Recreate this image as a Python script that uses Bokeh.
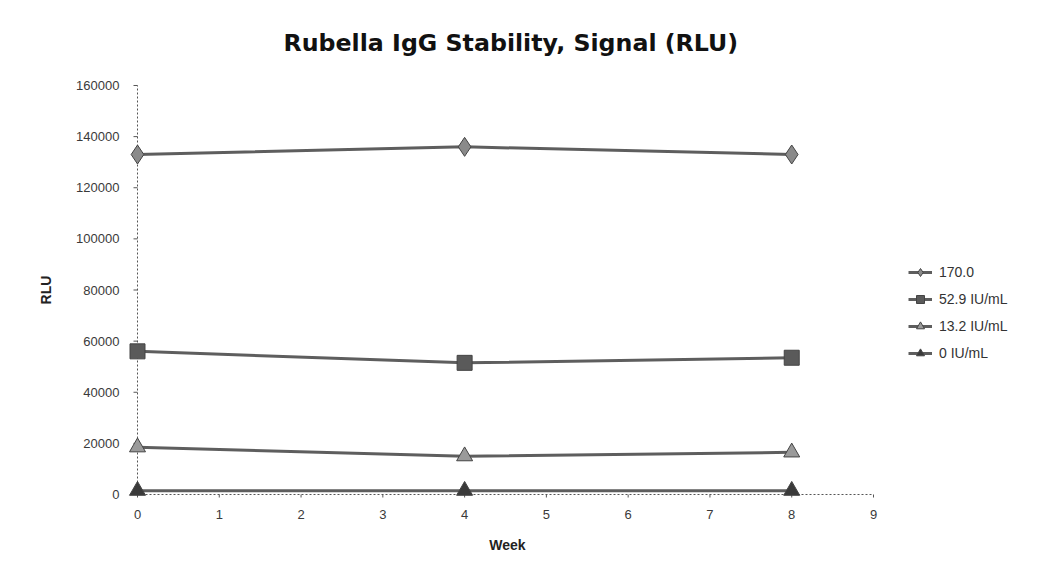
from bokeh.plotting import figure
from bokeh.models import Range1d, FixedTicker, Legend, LegendItem
from bokeh.layouts import row
from bokeh.embed import file_html
from bokeh.resources import INLINE

weeks = [0, 4, 8]
series_names = ["170.0", "52.9 IU/mL", "13.2 IU/mL", "0 IU/mL"]
s170 = [133000, 136000, 133000]
s529 = [56000, 51500, 53500]
s132 = [18500, 15000, 16500]
s0 = [1500, 1500, 1500]
y_ticks = [0, 20000, 40000, 60000, 80000, 100000, 120000, 140000, 160000]
x_ticks = [0, 1, 2, 3, 4, 5, 6, 7, 8, 9]
title_text = "Rubella IgG Stability, Signal (RLU)"

# geometry (pixels): x=0 at 137, x=9 at 873; y=0 at 494, y=160000 at 84
W, H = 1047, 580
W1 = 893
fl, fr, ft, fb = 127, 887, 81, 497
px_x = (873 - 137) / 9.0
px_y = (494 - 84) / 160000.0
x0 = -(137 - fl) / px_x
x1 = x0 + (fr - fl) / px_x
y0 = -(fb - 494) / px_y
y1 = y0 + (fb - ft) / px_y

p = figure(width=W1, height=H, output_backend="svg", toolbar_location=None,
           x_range=Range1d(x0, x1), y_range=Range1d(y0, y1),
           min_border_left=fl, min_border_right=W1 - fr, min_border_top=ft,
           min_border_bottom=H - fb, title=title_text)
p.outline_line_color = None
p.grid.visible = False
p.background_fill_color = "white"
p.border_fill_color = "white"

p.title.text_font = "DejaVu Sans"
p.title.text_font_style = "bold"
p.title.text_font_size = "23.7px"
p.title.text_color = "#111111"
p.title.align = "left"
p.title.offset = 283 - fl
p.title.standoff = 52

for ax in (p.xaxis[0], p.yaxis[0]):
    ax.axis_line_color = None
    ax.major_tick_line_color = None
    ax.minor_tick_line_color = None
    ax.major_tick_out = 0
    ax.major_tick_in = 0
    ax.major_label_text_font = "Liberation Sans"
    ax.major_label_text_font_size = "13px"
    ax.major_label_text_color = "#3a3a3a"
    ax.axis_label_text_font = "Liberation Sans"
    ax.axis_label_text_font_style = "bold"
    ax.axis_label_text_font_size = "14px"
    ax.axis_label_text_color = "#222222"

p.xaxis.ticker = FixedTicker(ticks=x_ticks)
p.yaxis.ticker = FixedTicker(ticks=y_ticks)
p.yaxis.formatter.use_scientific = False
p.xaxis.major_label_standoff = 12
p.yaxis.major_label_standoff = 8
p.xaxis.axis_label = "Week"
p.xaxis.axis_label_standoff = 15
p.yaxis.axis_label = "RLU"
p.yaxis.axis_label_standoff = 19

axis_col = "#555555"
tick_dx = 4 / px_x
tick_dy = 4 / px_y
p.segment(x0=[0], y0=[y_ticks[0]], x1=[0], y1=[y_ticks[-1]], line_color=axis_col,
          line_dash="2 2", line_width=1)
p.segment(x0=[x_ticks[0]], y0=[0], x1=[x_ticks[-1]], y1=[0], line_color=axis_col,
          line_dash="2 2", line_width=1)
p.segment(x0=[-tick_dx] * len(y_ticks), y0=y_ticks, x1=[0] * len(y_ticks), y1=y_ticks,
          line_color=axis_col, line_width=1)
p.segment(x0=x_ticks, y0=[0] * len(x_ticks), x1=x_ticks, y1=[-tick_dy] * len(x_ticks),
          line_color=axis_col, line_width=1)

line_color = "#5e5e5e"
marker_specs = [
    ("diamond", 19, "#8a8a8a"),
    ("square", 15, "#5a5a5a"),
    ("triangle", 16, "#9a9a9a"),
    ("triangle", 16, "#3a3a3a"),
]
all_series = [s170, s529, s132, s0]
for vals, (marker, size, fc) in zip(all_series, marker_specs):
    p.line(weeks, vals, line_color=line_color, line_width=3)
    p.scatter(weeks, vals, marker=marker, size=size, fill_color=fc,
              line_color="#444444", line_width=1)

# legend panel to the right (its data lie outside its own visible range)
p2 = figure(width=W - W1, height=H, output_backend="svg", toolbar_location=None,
            x_range=Range1d(100, 101), y_range=Range1d(-10, -9),
            x_axis_location=None, y_axis_location=None,
            min_border_left=0, min_border_right=0, min_border_top=0, min_border_bottom=0)
p2.grid.visible = False
p2.outline_line_color = None
p2.border_fill_color = "white"
p2.background_fill_color = "white"
items = []
for name, vals, (marker, size, fc) in zip(series_names, all_series, marker_specs):
    r1 = p2.line(weeks, vals, line_color=line_color, line_width=3)
    r2 = p2.scatter(weeks, vals, marker=marker, size=size * 0.75, fill_color=fc,
                    line_color="#444444", line_width=1)
    items.append(LegendItem(label=name, renderers=[r1, r2]))

legend = Legend(items=items, location=(15, 134), background_fill_alpha=0,
                border_line_color=None, label_text_font="Liberation Sans",
                label_text_font_size="14px", label_text_color="#333333",
                glyph_width=24, glyph_height=20, label_height=20,
                spacing=7, label_standoff=7, padding=10, margin=0)
p2.add_layout(legend)

layout = row(p, p2, spacing=0)
open("out.html", "w").write(file_html(layout, INLINE))
